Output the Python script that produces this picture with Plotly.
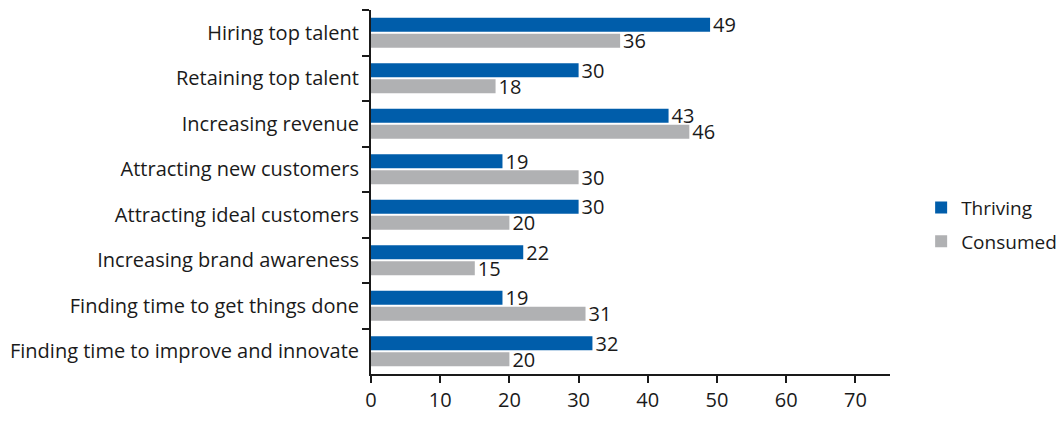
import plotly.graph_objects as go

categories = ["Hiring top talent", "Retaining top talent", "Increasing revenue",
              "Attracting new customers", "Attracting ideal customers",
              "Increasing brand awareness", "Finding time to get things done",
              "Finding time to improve and innovate"]
thriving = [49, 30, 43, 19, 30, 22, 19, 32]
consumed = [36, 18, 46, 30, 20, 15, 31, 20]
x_ticks = [0, 10, 20, 30, 40, 50, 60, 70]

FONT = "Open Sans"
FS = 20
fig = go.Figure()
fig.add_trace(go.Bar(y=categories, x=thriving, orientation="h", name="Thriving",
                     marker=dict(color="#005DAA", line=dict(width=0)),
                     text=thriving, textposition="outside", cliponaxis=False,
                     constraintext="none", legendgroup="a",
                     textfont=dict(size=FS, color="#1a1a1a", family=FONT)))
fig.add_trace(go.Bar(y=categories, x=consumed, orientation="h", name="Consumed",
                     marker=dict(color="#B0B1B3", line=dict(width=0)),
                     text=consumed, textposition="outside", cliponaxis=False,
                     constraintext="none", legendgroup="b",
                     textfont=dict(size=FS, color="#1a1a1a", family=FONT)))

fig.update_layout(
    width=1060, height=423,
    margin=dict(l=371, r=170, t=10, b=45),
    barmode="group", bargap=0.3, bargroupgap=0.12,
    plot_bgcolor="white", paper_bgcolor="white",
    font=dict(family=FONT, size=FS, color="#1a1a1a"),
    legend=dict(xref="container", yref="container", x=0.869, y=0.469,
                xanchor="left", yanchor="middle",
                traceorder="grouped", font=dict(size=19, family=FONT),
                itemsizing="constant", tracegroupgap=6),
    xaxis=dict(range=[0, 75], tickvals=x_ticks, ticks="outside", ticklen=7,
               tickwidth=2, tickcolor="#1a1a1a", showline=True, linecolor="#1a1a1a",
               linewidth=2, showgrid=False, zeroline=False,
               tickfont=dict(size=FS, family=FONT)),
    yaxis=dict(autorange="reversed", ticks="outside", ticklen=7, tickwidth=2,
               tickcolor="#1a1a1a", tickson="boundaries", showline=True,
               linecolor="#1a1a1a", linewidth=2, showgrid=False,
               ticklabelstandoff=6,
               tickfont=dict(size=FS, family=FONT)),
)
fig.write_html("out.html", config={"displayModeBar": False},
               post_script="document.body.style.margin='0';document.body.style.overflow='hidden';")
